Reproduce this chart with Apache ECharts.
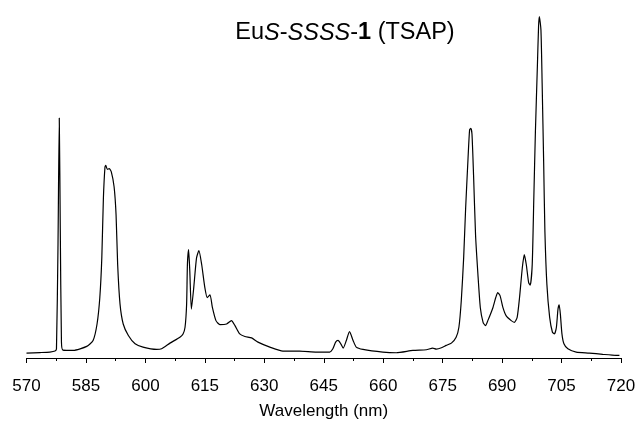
<!DOCTYPE html>
<html>
<head>
<meta charset="utf-8">
<script src="https://cdn.jsdelivr.net/npm/echarts@6/dist/echarts.min.js"></script>
<style>
  html, body { margin: 0; padding: 0; background: #fff; }
  #chart { width: 640px; height: 425px; }
</style>
</head>
<body>
<div id="chart"></div>
<script>
// wavelength (nm)
const wavelength = [
  570, 573.4, 575.9, 577.2, 577.56, 577.94, 578.27, 578.52, 578.82, 579.2,
  581.8, 585.2, 586.8, 587.8, 588.5, 589.0, 589.4, 589.8, 590.0, 590.4,
  590.9, 591.4, 592.1, 592.6, 593.0, 593.6, 594.4, 595.7, 597.4, 599.4,
  602.8, 604.1, 606.2, 608.7, 609.5, 610.0, 610.4, 610.6, 610.9, 611.2,
  611.6, 612.2, 612.9, 613.5, 614.2, 615.0, 615.6, 616.3, 616.9, 617.8,
  618.8, 620.5, 621.7, 622.6, 623.8, 625.1, 626.8, 628.4, 631.4, 634.7,
  638.9, 643.2, 646.5, 647.3, 648.0, 648.6, 649.3, 649.9, 650.7, 651.5,
  652.4, 653.2, 654.9, 659.9, 663.3, 667.5, 670.9, 672.5, 673.4, 674.7,
  675.9, 677.2, 678.4, 679.1, 679.7, 680.3, 680.8, 681.4, 681.8, 682.1,
  682.4, 682.8, 683.3, 683.9, 684.5, 685.2, 685.8, 686.4, 687.7, 688.4,
  688.9, 689.5, 690.2, 691.0, 692.3, 693.1, 693.8, 694.4, 695.1, 695.6,
  696.1, 696.7, 697.1, 697.6, 698.0, 698.4, 698.9, 699.2, 699.4, 699.8,
  700.1, 700.5, 700.8, 701.3, 702.0, 702.7, 703.2, 703.7, 704.1, 704.4,
  704.7, 705.1, 705.6, 706.6, 708.7, 712.0, 715.4, 718.8, 719.6
];

// emission intensity (arb. units)
const intensity = [
  5, 5.5, 6, 7, 9, 111, 242, 131, 16, 8,
  7.7, 11.7, 17.7, 34.3, 61, 101, 161, 192.7, 194.3, 190.3,
  191, 187.7, 172.7, 144.3, 94.3, 54.3, 34.3, 22.7, 14.3, 11,
  8.7, 9.3, 15, 21, 24.3, 31, 54.3, 94.3, 109.3, 87.7,
  49.3, 71, 101, 108.3, 94.3, 71, 61, 63.7, 51, 37.7,
  33.7, 34.3, 37.7, 32.7, 24.3, 21.7, 20.3, 16, 11, 7,
  7, 6, 6, 9.3, 16, 17.7, 14.3, 10, 17.7, 26.7,
  17.7, 11, 8.7, 6, 5.3, 7.7, 8.3, 10, 9, 10.3,
  12.7, 15, 21, 31, 57.7, 101, 151, 201, 230.3, 231.7,
  226, 184.3, 124.3, 84.3, 51, 36, 32.7, 37.7, 51, 61,
  66, 62.7, 51, 42.7, 37.7, 36, 41, 61, 91, 104.3,
  94.3, 76, 73.5, 94.3, 161, 227.7, 294.3, 334.3, 344.3, 331,
  277.7, 194.3, 127.7, 74.3, 41, 26, 24.3, 31, 49.3, 53.7,
  44.3, 24.3, 14.3, 9.3, 6, 5, 3.7, 2.7, 2.7
];

const chart = echarts.init(document.getElementById('chart'));

const option = {
  animation: false,
  backgroundColor: '#fff',
  title: {
    text: 'Eu{i|S}-{i|SSSS}-{b|1} (TSAP)',
    left: 340,
    top: 16,
    textAlign: 'center',
    textStyle: {
      fontFamily: 'Liberation Sans',
      fontSize: 23.5,
      fontWeight: 'normal',
      color: '#000',
      rich: {
        i: { fontFamily: 'Liberation Sans', fontSize: 23.5, fontStyle: 'italic', color: '#000' },
        b: { fontFamily: 'Liberation Sans', fontSize: 23.5, fontWeight: 'bold', color: '#000' }
      }
    }
  },
  grid: { left: 26.5, right: 19, top: 15, bottom: 64 },
  xAxis: {
    type: 'value',
    min: 570,
    max: 720,
    interval: 15,
    name: 'Wavelength (nm)',
    nameLocation: 'middle',
    nameGap: 45,
    nameTextStyle: { fontFamily: 'Liberation Sans', fontSize: 17, color: '#000' },
    axisLine: { lineStyle: { color: '#000', width: 1 } },
    axisTick: { length: 5, lineStyle: { color: '#000' } },
    minorTick: { show: true, splitNumber: 2, length: 3, lineStyle: { color: '#000' } },
    axisLabel: { fontFamily: 'Liberation Sans', fontSize: 17, color: '#000', margin: 20 },
    splitLine: { show: false }
  },
  yAxis: {
    type: 'value',
    min: 0,
    max: 346,
    show: false
  },
  series: [{
    type: 'line',
    data: wavelength.map((w, i) => [w, intensity[i]]),
    showSymbol: false,
    smooth: 0.2,
    lineStyle: { color: '#000', width: 1.2 }
  }]
};

chart.setOption(option);
</script>
</body>
</html>
